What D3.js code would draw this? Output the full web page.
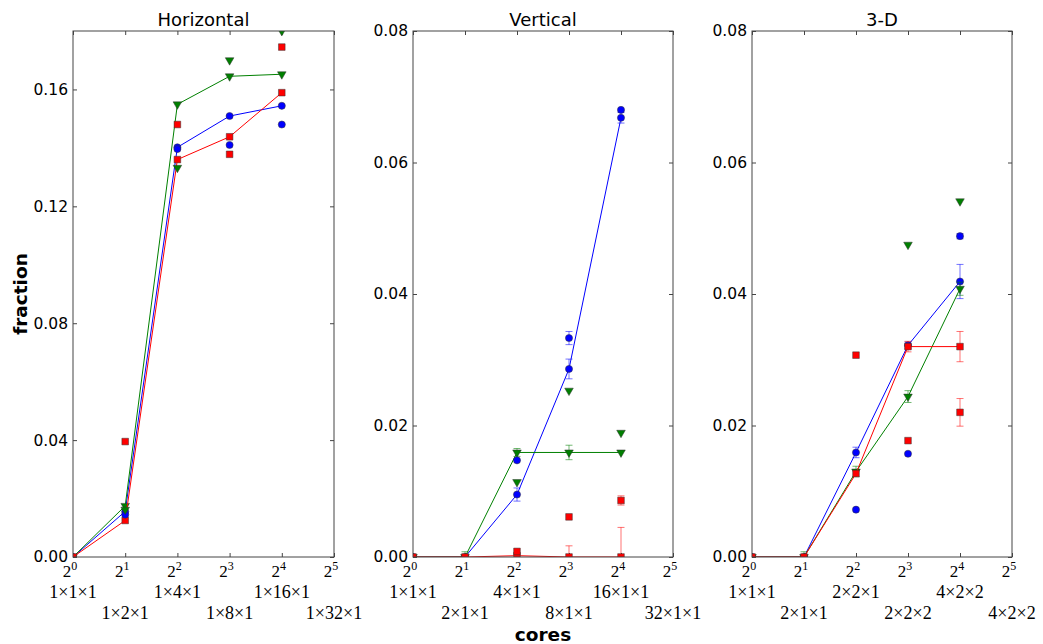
<!DOCTYPE html>
<html lang="en">
<head>
<meta charset="UTF-8">
<title>fraction vs cores</title>
<script src="https://cdn.jsdelivr.net/npm/d3@7"></script>
<style>
    body { margin: 0; background: #fff; }
    text { font-family: "DejaVu Sans", sans-serif; fill: #000; }
    .ylab text { font-size: 15.5px; }
    .title { font-size: 18px; }
    .axlabel { font-size: 18.5px; font-weight: bold; }
    .pow { font-family: "Liberation Serif", serif; font-size: 17px; }
    .cat { font-family: "Liberation Serif", serif; font-size: 18px; }
    .tick line { stroke: #444; }
</style>
</head>
<body>
<script>
    // x positions: number of cores (log2 axis)
    const cores = [1, 2, 4, 8, 16];
    const powTicks = [0, 1, 2, 3, 4, 5];
    const titles = ["Horizontal", "Vertical", "3-D"];

    // grid labels under the powers of two
    const horizLabels = ["1×1×1", "1×2×1", "1×4×1", "1×8×1", "1×16×1", "1×32×1"];
    const vertLabels = ["1×1×1", "2×1×1", "4×1×1", "8×1×1", "16×1×1", "32×1×1"];
    const cubeLabels = ["1×1×1", "2×1×1", "2×2×1", "2×2×2", "4×2×2", "4×2×2"];

    // y tick values
    const horizTicks = [0, 0.04, 0.08, 0.12, 0.16];
    const smallTicks = [0, 0.02, 0.04, 0.06, 0.08];

    // Horizontal panel
    const hBlue = [0, 0.0156, 0.1402, 0.1509, 0.1544];
    const hGreen = [0, 0.0175, 0.1549, 0.1645, 0.1652];
    const hRed = [0, 0.0125, 0.1360, 0.1438, 0.1589];
    const hBlueX = [null, 0.0145, 0.1396, 0.1410, 0.1480];
    const hGreenX = [null, 0.0162, 0.1332, 0.1700, 0.1800];
    const hRedX = [null, 0.0395, 0.1480, 0.1378, 0.1745];

    // Vertical panel
    const vBlue = [0, 0, 0.0095, 0.0286, 0.0668];
    const vBlueErr = [0, 0, 0.0010, 0.0015, 0.0008];
    const vGreen = [0, 0, 0.0159, 0.0159, 0.0159];
    const vGreenErr = [0, 0.0008, 0.0006, 0.0011, 0];
    const vRed = [0, 0, 0.0002, 0, 0];
    const vRedErr = [0, 0, 0, 0.0017, 0.0045];
    const vBlueX = [null, null, 0.0147, 0.0333, 0.0680];
    const vBlueXErr = [0, 0, 0, 0.0010, 0];
    const vGreenX = [null, null, 0.0114, 0.0253, 0.0189];
    const vRedX = [null, null, 0.00085, 0.0061, 0.0086];
    const vRedXErr = [0, 0, 0, 0, 0.0007];

    // 3-D panel
    const cBlue = [0, 0, 0.0159, 0.0322, 0.0419];
    const cBlueErr = [0, 0, 0.0008, 0.0005, 0.0026];
    const cGreen = [0, 0, 0.0130, 0.0244, 0.0408];
    const cGreenErr = [0, 0.0008, 0.0008, 0.0009, 0.0010];
    const cRed = [0, 0, 0.0127, 0.0320, 0.0320];
    const cRedErr = [0, 0, 0, 0.0008, 0.0023];
    const cBlueX = [null, null, 0.0072, 0.0157, 0.0488];
    const cBlueXErr = [0, 0, 0, 0, 0.0004];
    const cGreenX = [null, null, null, 0.0475, 0.0541];
    const cRedX = [null, null, 0.0307, 0.0177, 0.0220];
    const cRedXErr = [0, 0, 0, 0, 0.0021];

    const BLUE = "#0000ff", GREEN = "#008000", RED = "#ff0000";

    const width = 1043, height = 644;
    const plotTop = 31, plotBottom = 557;

    const panels = [
        {left: 73, right: 334, ymax: 0.18, yticks: horizTicks, labels: horizLabels,
         series: [
             {c: BLUE, shape: "o", v: hBlue, line: true},
             {c: GREEN, shape: "v", v: hGreen, line: true},
             {c: RED, shape: "s", v: hRed, line: true},
             {c: BLUE, shape: "o", v: hBlueX},
             {c: GREEN, shape: "v", v: hGreenX},
             {c: RED, shape: "s", v: hRedX}
         ]},
        {left: 413, right: 673, ymax: 0.08, yticks: smallTicks, labels: vertLabels,
         series: [
             {c: BLUE, shape: "o", v: vBlue, e: vBlueErr, line: true},
             {c: GREEN, shape: "v", v: vGreen, e: vGreenErr, line: true},
             {c: RED, shape: "s", v: vRed, e: vRedErr, line: true},
             {c: BLUE, shape: "o", v: vBlueX, e: vBlueXErr},
             {c: GREEN, shape: "v", v: vGreenX},
             {c: RED, shape: "s", v: vRedX, e: vRedXErr}
         ]},
        {left: 752, right: 1012, ymax: 0.08, yticks: smallTicks, labels: cubeLabels,
         series: [
             {c: BLUE, shape: "o", v: cBlue, e: cBlueErr, line: true},
             {c: GREEN, shape: "v", v: cGreen, e: cGreenErr, line: true},
             {c: RED, shape: "s", v: cRed, e: cRedErr, line: true},
             {c: BLUE, shape: "o", v: cBlueX, e: cBlueXErr},
             {c: GREEN, shape: "v", v: cGreenX},
             {c: RED, shape: "s", v: cRedX, e: cRedXErr}
         ]}
    ];

    const svg = d3.select("body").append("svg")
        .attr("width", width).attr("height", height);

    const symbols = {
        o: d3.symbol().type(d3.symbolCircle).size(40),
        s: d3.symbol().type(d3.symbolSquare).size(44),
        v: d3.symbol().type(d3.symbolTriangle).size(32)
    };

    panels.forEach(function (p, pi) {
        const x = d3.scaleLog().base(2).domain([1, 32]).range([p.left, p.right]);
        const y = d3.scaleLinear().domain([0, p.ymax]).range([plotBottom, plotTop]);
        const g = svg.append("g");

        const clipId = "clip" + pi;
        svg.append("clipPath").attr("id", clipId)
            .append("rect")
            .attr("x", p.left).attr("y", plotTop)
            .attr("width", p.right - p.left).attr("height", plotBottom - plotTop);

        // ticks pointing inward on all sides
        const tickX = powTicks.map(k => Math.pow(2, k));
        g.append("g").attr("transform", `translate(0,${plotBottom})`)
            .call(d3.axisBottom(x).tickValues(tickX).tickSize(-4).tickFormat(""))
            .call(a => a.select(".domain").remove());
        g.append("g").attr("transform", `translate(0,${plotTop})`)
            .call(d3.axisTop(x).tickValues(tickX).tickSize(-4).tickFormat(""))
            .call(a => a.select(".domain").remove());
        g.append("g").attr("class", "ylab").attr("transform", `translate(${p.left},0)`)
            .call(d3.axisLeft(y).tickValues(p.yticks).tickSize(-4).tickPadding(5).tickFormat(d3.format(".2f")))
            .call(a => a.select(".domain").remove())
            .call(a => a.attr("font-family", null).attr("font-size", null));
        g.append("g").attr("transform", `translate(${p.right},0)`)
            .call(d3.axisRight(y).tickValues(p.yticks).tickSize(-4).tickFormat(""))
            .call(a => a.select(".domain").remove());

        // power of two labels
        const pow = g.append("g").selectAll("text").data(powTicks).enter()
            .append("text").attr("class", "pow")
            .attr("x", d => x(Math.pow(2, d)) - 3)
            .attr("y", 577)
            .attr("text-anchor", "middle");
        pow.append("tspan").text("2");
        pow.append("tspan").attr("dy", -7).attr("font-size", 12).text(d => d);

        // grid-size labels, alternating rows
        g.append("g").selectAll("text").data(p.labels).enter()
            .append("text").attr("class", "cat")
            .attr("x", (d, i) => x(Math.pow(2, i)))
            .attr("y", (d, i) => i % 2 === 0 ? 598 : 619)
            .attr("text-anchor", "middle")
            .text(d => d);

        // data
        const plot = g.append("g").attr("clip-path", `url(#${clipId})`);
        const line = d3.line()
            .x(d => x(d[0])).y(d => y(d[1]));

        p.series.forEach(function (s) {
            const pts = cores.map((c, i) => [c, s.v[i], s.e ? s.e[i] : 0]).filter(d => d[1] !== null);
            if (s.line) {
                plot.append("path").datum(pts)
                    .attr("d", line)
                    .attr("fill", "none")
                    .attr("stroke", s.c)
                    .attr("stroke-width", 1);
            }
            const eb = plot.append("g").attr("stroke", s.c).attr("stroke-opacity", 0.55).attr("stroke-width", 1)
                .selectAll("g").data(pts.filter(d => d[2] > 0)).enter().append("g");
            eb.append("line")
                .attr("x1", d => x(d[0])).attr("x2", d => x(d[0]))
                .attr("y1", d => y(d[1] - d[2])).attr("y2", d => y(d[1] + d[2]));
            eb.append("line")
                .attr("x1", d => x(d[0]) - 3.5).attr("x2", d => x(d[0]) + 3.5)
                .attr("y1", d => y(d[1] - d[2])).attr("y2", d => y(d[1] - d[2]));
            eb.append("line")
                .attr("x1", d => x(d[0]) - 3.5).attr("x2", d => x(d[0]) + 3.5)
                .attr("y1", d => y(d[1] + d[2])).attr("y2", d => y(d[1] + d[2]));

            plot.append("g").selectAll("path").data(pts).enter()
                .append("path")
                .attr("d", symbols[s.shape])
                .attr("transform", d => `translate(${x(d[0])},${y(d[1])})` + (s.shape === "v" ? " rotate(180)" : ""))
                .attr("fill", s.c)
                .attr("stroke", "#333")
                .attr("stroke-width", 0.5);
        });

        // frame
        g.append("rect")
            .attr("x", p.left).attr("y", plotTop)
            .attr("width", p.right - p.left).attr("height", plotBottom - plotTop)
            .attr("fill", "none").attr("stroke", "#444").attr("stroke-width", 1);

        g.append("text").attr("class", "title")
            .attr("x", (p.left + p.right) / 2).attr("y", 26)
            .attr("text-anchor", "middle")
            .text(titles[pi]);
    });

    svg.append("text").attr("class", "axlabel")
        .attr("transform", `translate(27,${(plotTop + plotBottom) / 2}) rotate(-90)`)
        .attr("text-anchor", "middle")
        .text("fraction");

    svg.append("text").attr("class", "axlabel")
        .attr("x", 543).attr("y", 641)
        .attr("text-anchor", "middle")
        .text("cores");
</script>
</body>
</html>
